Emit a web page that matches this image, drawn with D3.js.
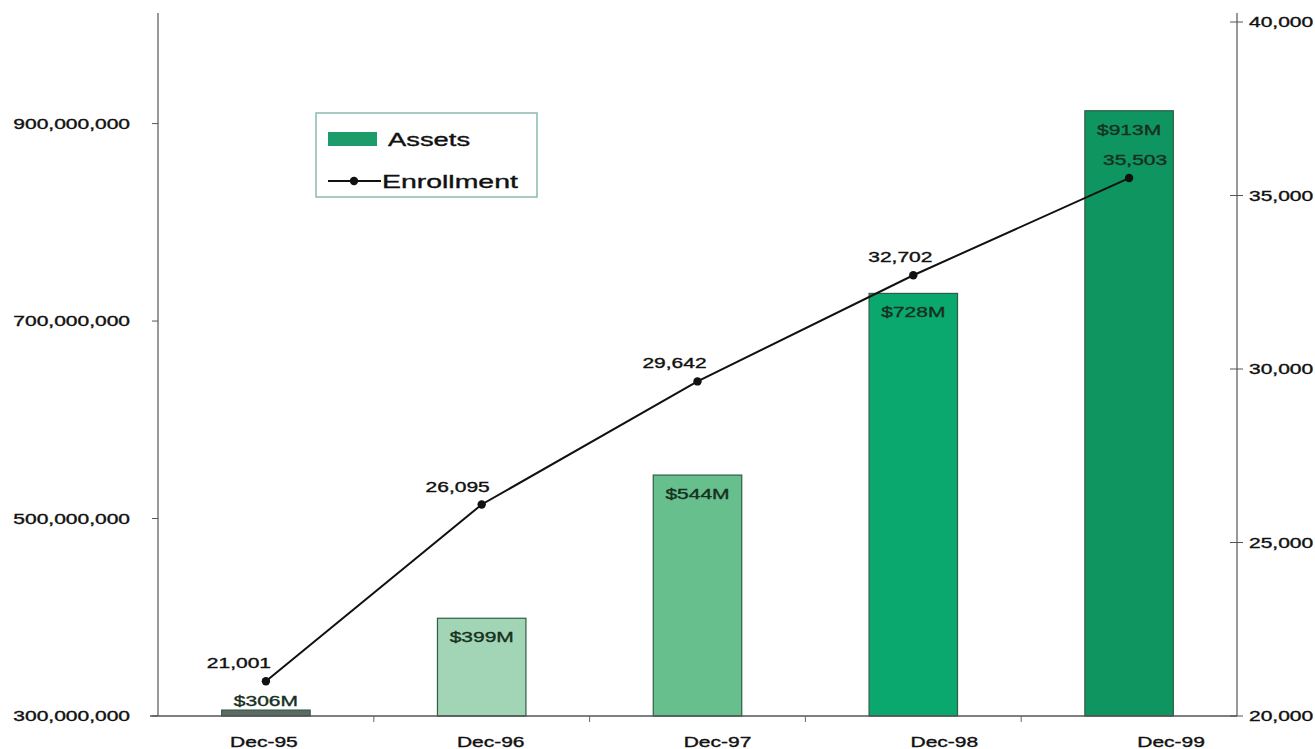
<!DOCTYPE html>
<html>
<head>
<meta charset="utf-8">
<script src="https://cdn.jsdelivr.net/npm/d3@7/dist/d3.min.js"></script>
<style>
  html, body { margin: 0; padding: 0; background: #fff; }
  svg { display: block; }
  text { font-family: "Liberation Sans", Arial, Helvetica, sans-serif; fill: #111; stroke: #111; stroke-width: 0.35px; }
</style>
</head>
<body>
<svg id="chart" width="1315" height="749"></svg>
<script>
// Year-end figures
const categories = ["Dec-95", "Dec-96", "Dec-97", "Dec-98", "Dec-99"];
const assets = [306000000, 399000000, 544000000, 728000000, 913000000];
const assetLabels = ["$306M", "$399M", "$544M", "$728M", "$913M"];
const enrollment = [21001, 26095, 29642, 32702, 35503];
const leftTicks = [300000000, 500000000, 700000000, 900000000];
const rightTicks = [20000, 25000, 30000, 35000, 40000];

const barColors = ["#5d6a63", "#a2d5b6", "#67bf8d", "#0aa86f", "#0f955f"];

const svg = d3.select("#chart");
const m = { left: 158, right: 1237, top: 13, bottom: 716 };

function stretchText(sel, sx = 1.5) {
  sel.each(function () {
    const t = d3.select(this);
    const x = +t.attr("x") || 0, y = +t.attr("y") || 0;
    t.attr("x", 0).attr("y", 0)
     .attr("transform", `translate(${x},${y}) scale(${sx},1)`);
  });
}

const x = d3.scaleBand().domain(categories).range([m.left, m.right]).paddingInner(0.59).paddingOuter(0.295);
const xc = d => x(d) + x.bandwidth() / 2;
const yL = d3.scaleLinear().domain([300000000, 1012000000]).range([m.bottom, m.top]);
const yR = d3.scaleLinear().domain([20000, 40000]).range([m.bottom, 22]);

const fmt = d3.format(",");

// Bars
svg.append("g").selectAll("rect").data(categories).join("rect")
  .attr("x", d => x(d))
  .attr("width", x.bandwidth())
  .attr("y", (d, i) => yL(assets[i]))
  .attr("height", (d, i) => yL(300000000) - yL(assets[i]))
  .attr("fill", (d, i) => barColors[i])
  .attr("stroke", "#2f5d45")
  .attr("stroke-width", 1.2);

// Asset value labels: inside the bar top, or just above a short bar
svg.append("g").selectAll("text").data(categories).join("text")
  .attr("x", d => xc(d))
  .attr("y", (d, i) => {
    const top = yL(assets[i]);
    return (yL(300000000) - top) > 30 ? top + 24 : top - 4;
  })
  .attr("text-anchor", "middle")
  .attr("font-size", 14)
  .style("fill", "#17301f").style("stroke", "#17301f")
  .text((d, i) => assetLabels[i])
  .call(stretchText);

// Left axis
const gL = svg.append("g").attr("transform", `translate(${m.left},0)`);
gL.append("line").attr("y1", m.top).attr("y2", m.bottom).attr("stroke", "#999").attr("stroke-width", 2);
gL.selectAll("line.t").data(leftTicks).join("line").attr("class", "t")
  .attr("x1", -6).attr("x2", 0).attr("y1", d => yL(d)).attr("y2", d => yL(d))
  .attr("stroke", "#555").attr("stroke-width", 1);
gL.selectAll("text").data(leftTicks).join("text")
  .attr("x", -28).attr("y", d => yL(d) + 5)
  .attr("text-anchor", "end").attr("font-size", 14)
  .text(d => fmt(d))
  .call(stretchText);

// Right axis
const gR = svg.append("g").attr("transform", `translate(${m.right},0)`);
gR.append("line").attr("y1", m.top).attr("y2", m.bottom).attr("stroke", "#777").attr("stroke-width", 1.5);
gR.selectAll("line.t").data(rightTicks).join("line").attr("class", "t")
  .attr("x1", -7).attr("x2", 6).attr("y1", d => yR(d)).attr("y2", d => yR(d))
  .attr("stroke", "#555").attr("stroke-width", 1);
gR.selectAll("text").data(rightTicks).join("text")
  .attr("x", 12).attr("y", d => yR(d) + 5)
  .attr("text-anchor", "start").attr("font-size", 14)
  .text(d => fmt(d))
  .call(stretchText);

// Bottom axis with ticks between categories
const gB = svg.append("g").attr("transform", `translate(0,${m.bottom})`);
gB.append("line").attr("x1", m.left - 8).attr("x2", m.right).attr("stroke", "#555").attr("stroke-width", 1.3);
const gap = (x.step() - x.bandwidth()) / 2;
gB.selectAll("line.t").data(categories.slice(1)).join("line").attr("class", "t")
  .attr("x1", d => x(d) - gap)
  .attr("x2", d => x(d) - gap)
  .attr("y1", 0).attr("y2", 6)
  .attr("stroke", "#666").attr("stroke-width", 1);
gB.selectAll("text").data(categories).join("text")
  .attr("x", (d, i) => xc(d) + i * 11 - 2)
  .attr("y", 31)
  .attr("text-anchor", "middle").attr("font-size", 14)
  .text(d => d)
  .call(stretchText);

// Enrollment line
const line = d3.line().x((d, i) => xc(categories[i])).y(d => yR(d));
svg.append("path").datum(enrollment)
  .attr("d", line).attr("fill", "none").attr("stroke", "#111").attr("stroke-width", 2);
svg.append("g").selectAll("circle").data(enrollment).join("circle")
  .attr("cx", (d, i) => xc(categories[i])).attr("cy", d => yR(d)).attr("r", 4.2).attr("fill", "#111");

const labelNudge = [-27, -24, -23, -13, 6];
svg.append("g").selectAll("text").data(enrollment).join("text")
  .attr("x", (d, i) => xc(categories[i]) + labelNudge[i])
  .attr("y", d => yR(d) - 13)
  .attr("text-anchor", "middle").attr("font-size", 14)
  .style("fill", (d, i) => i === 4 ? "#17301f" : "#111")
  .style("stroke", (d, i) => i === 4 ? "#17301f" : "#111")
  .text(d => fmt(d))
  .call(stretchText);

// Legend
const lg = svg.append("g");
lg.append("rect").attr("x", 316).attr("y", 113).attr("width", 221).attr("height", 84)
  .attr("fill", "#fff").attr("stroke", "#8cb9b1").attr("stroke-width", 1.5);
lg.append("rect").attr("x", 328).attr("y", 132).attr("width", 49).attr("height", 14)
  .attr("fill", "#1c9c6a");
lg.append("text").attr("x", 388).attr("y", 146).attr("font-size", 18).text("Assets").call(stretchText, 1.52);
lg.append("line").attr("x1", 328).attr("x2", 381).attr("y1", 181).attr("y2", 181)
  .attr("stroke", "#111").attr("stroke-width", 2);
lg.append("circle").attr("cx", 354).attr("cy", 181).attr("r", 4.2).attr("fill", "#111");
lg.append("text").attr("x", 382).attr("y", 188).attr("font-size", 18).text("Enrollment").call(stretchText, 1.58);
</script>
</body>
</html>
